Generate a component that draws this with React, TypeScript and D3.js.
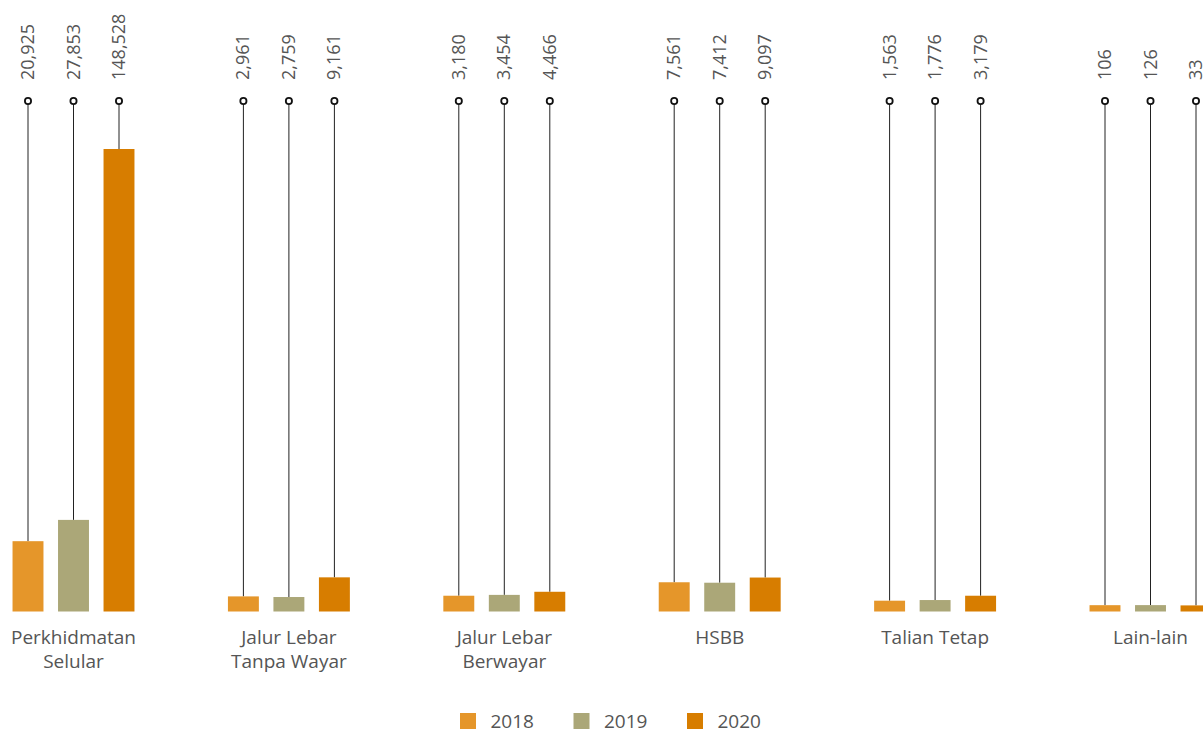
import React from "react";
import * as d3 from "d3";

const categories: string[] = [
  "Perkhidmatan Selular",
  "Jalur Lebar Tanpa Wayar",
  "Jalur Lebar Berwayar",
  "HSBB",
  "Talian Tetap",
  "Lain-lain",
];
const categoryLines: string[][] = [
  ["Perkhidmatan", "Selular"],
  ["Jalur Lebar", "Tanpa Wayar"],
  ["Jalur Lebar", "Berwayar"],
  ["HSBB"],
  ["Talian Tetap"],
  ["Lain-lain"],
];
const years: string[] = ["2018", "2019", "2020"];
const values2018: number[] = [20925, 2961, 3180, 7561, 1563, 106];
const values2019: number[] = [27853, 2759, 3454, 7412, 1776, 126];
const values2020: number[] = [148528, 9161, 4466, 9097, 3179, 33];
const colors: string[] = ["#E5962A", "#ABA778", "#D77D00"];

const W = 1203;
const H = 731;
const FONT = "'Open Sans', 'Noto Sans', sans-serif";

export default function App() {
  const series = [values2018, values2019, values2020];
  const baseline = 611.5;
  const circleY = 101;
  const labelY = 80;

  const x0 = d3.scaleBand<string>().domain(categories).range([-34.2, 1258.2]).padding(0);
  const x1 = d3
    .scaleBand<string>()
    .domain(years)
    .range([0, 136.5])
    .paddingInner(0.32)
    .paddingOuter(0.16);
  const maxV = d3.max(series.flat()) as number;
  const y = d3.scaleLinear().domain([0, maxV]).range([baseline - 6, 149]);
  const fmt = d3.format(",");

  const color = d3.scaleOrdinal<string, string>().domain(years).range(colors);

  return (
    <svg
      width={W}
      height={H}
      style={{ position: "absolute", left: 0, top: 0, background: "#fff" }}
      fontFamily={FONT}
    >
      {categories.map((cat, ci) => {
        const center = (x0(cat) as number) + x0.bandwidth() / 2;
        const gx = center - 68.25;
        return (
          <g key={cat}>
            {years.map((yr, yi) => {
              const v = series[yi][ci];
              const bx = gx + (x1(yr) as number);
              const bw = x1.bandwidth();
              const cx = bx + bw / 2;
              const top = y(v);
              return (
                <g key={yr}>
                  <line x1={cx} x2={cx} y1={circleY + 3} y2={top} stroke="#222" strokeWidth={1} />
                  <rect x={bx} y={top} width={bw} height={baseline - top} fill={color(yr)} />
                  <circle cx={cx} cy={circleY} r={3.1} fill="#fff" stroke="#111" strokeWidth={1.8} />
                  <text
                    transform={`translate(${cx + 6},${labelY}) rotate(-90)`}
                    fontSize={18}
                    fill="#555"
                    textAnchor="start"
                  >
                    {fmt(v)}
                  </text>
                </g>
              );
            })}
            <text textAnchor="middle" fontSize={19} fill="#555">
              {categoryLines[ci].map((ln, li) => (
                <tspan key={li} x={center} y={644 + li * 23.5}>
                  {ln}
                </tspan>
              ))}
            </text>
          </g>
        );
      })}
      <g>
        {years.map((yr, i) => (
          <g key={yr} transform={`translate(${460 + i * 113.5},713)`}>
            <rect width={16} height={16} fill={color(yr)} />
            <text x={30.5} y={15} fontSize={19} fill="#555">
              {yr}
            </text>
          </g>
        ))}
      </g>
    </svg>
  );
}
